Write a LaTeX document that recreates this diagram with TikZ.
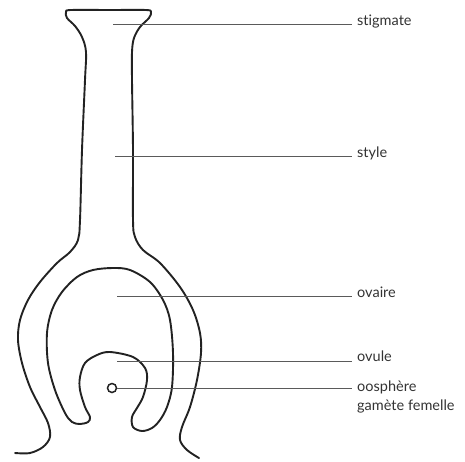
\documentclass[tikz,border=0pt]{standalone}
\usepackage{fontspec}
\setmainfont{Lato}[Ligatures={NoCommon}]
\usepackage{tikz}
\usetikzlibrary{positioning}
\definecolor{ink}{HTML}{222222}
\definecolor{leadgray}{HTML}{5A5A5A}
\definecolor{txtgray}{HTML}{333333}

\begin{document}
\begin{tikzpicture}[x=1pt, y=-1pt,
    wall/.style={draw=ink, line width=1.9pt, line join=round, line cap=round},
    leader/.style={draw=leadgray, line width=0.9pt, shorten >=5pt},
    lbl/.style={anchor=base west, inner sep=0pt, text=txtgray,
      font=\fontsize{14.5}{19}\selectfont}]
  \useasboundingbox (0,0) rectangle (465,461);
  % outer wall: stigma, style and ovary
  \draw[wall] plot[smooth, tension=0.55] coordinates {
      (15,453) (30,453) (43,447) (50,437) (48,423) (40,407) (30,387)
      (22,363) (18,340) (20,320) (28,300) (40,282) (57,263) (70,252)
      (78,240) (80,220) (82,150) (85,80) (86,52) (82,37) (75,26)
      (67,18) (66,12) (71,10) (110,10) (146,10) (151,12) (149,18)
      (140,27) (134,38) (132,52) (132,80) (133,150) (133,220) (135,237)
      (143,250) (160,263) (180,287) (193,310) (200,333) (201,353)
      (197,380) (190,407) (182,427) (180,440) (187,450) (199,458)};
  % ovary cavity with the ovule hanging in it
  \draw[wall] plot[smooth cycle, tension=0.55] coordinates {
      (110,352) (133,357) (145,368) (147,380) (143,397) (137,408)
      (132,417) (133,427) (142,431) (152,428) (160,420) (167,407)
      (172,387) (173,353) (170,320) (163,300) (150,282) (130,270)
      (113,268) (93,270) (77,277) (62,292) (52,310) (47,333) (48,363)
      (55,390) (65,413) (72,422) (80,424) (88,422) (90,417) (85,407)
      (80,390) (80,377) (85,363) (97,355)};
  % egg cell
  \node[circle, draw=ink, line width=1.5pt, minimum size=9pt, inner sep=0pt]
    (oocell) at (112,388) {};

  % labels
  \node[lbl] (stigma) at (357,25) {stigmate};
  \node[lbl] (style) at (357,157) {style};
  \node[lbl] (ovary) at (357,297) {ovaire};
  \node[lbl] (ovule) at (357,361) {ovule};
  \node[lbl] (oosph) at (357,391) {oosphère};
  \node[lbl, anchor=base west] (gamete) at ([yshift=-19pt]oosph.base west) {gamète femelle};

  \coordinate (pstigma) at (113,24);
  \coordinate (pstyle) at (115,156);
  \coordinate (povary) at (117,296);
  \coordinate (povule) at (117,361);

  \draw[leader] (pstigma) -- (pstigma -| stigma.base west);
  \draw[leader] (pstyle) -- (pstyle -| style.base west);
  \draw[leader] (povary) -- (povary -| ovary.base west);
  \draw[leader] (povule) -- (povule -| ovule.base west);
  \draw[leader] (oocell.east) -- (oocell.east -| oosph.base west);
\end{tikzpicture}
\end{document}
